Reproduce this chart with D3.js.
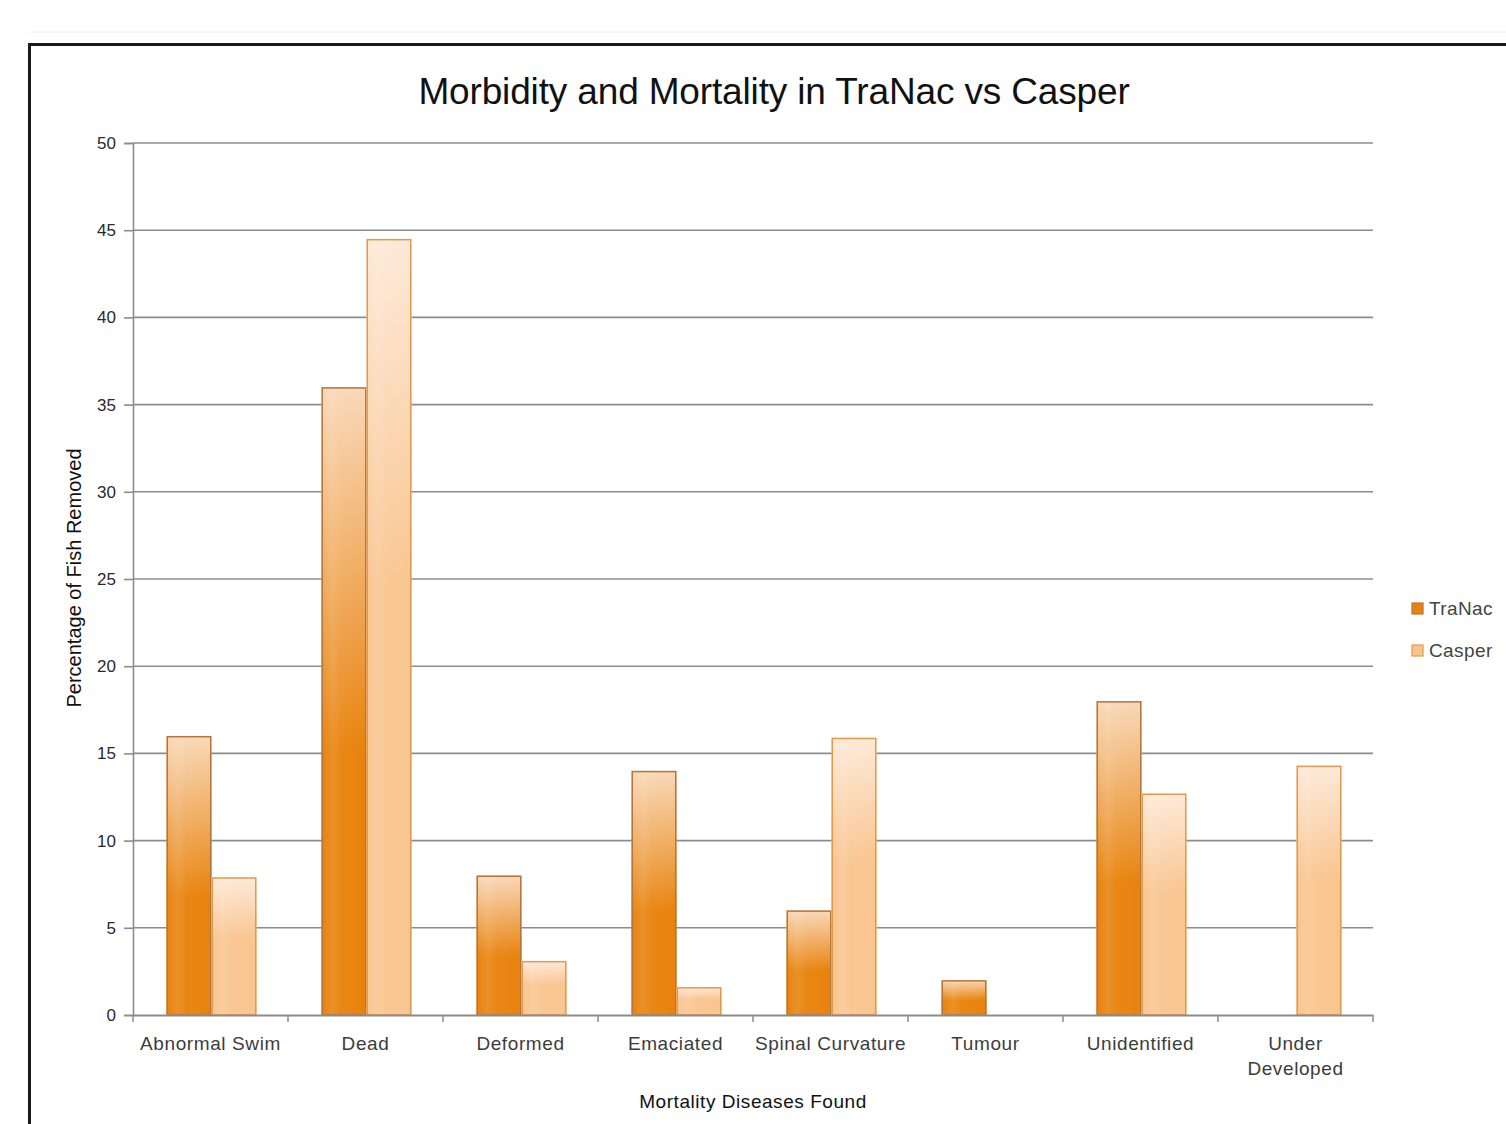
<!DOCTYPE html>
<html>
<head>
<meta charset="utf-8">
<script src="https://cdn.jsdelivr.net/npm/d3@7"></script>
<style>
  html, body { margin: 0; padding: 0; background: #fff; }
  svg { display: block; }
</style>
</head>
<body>
<svg id="chart" width="1506" height="1124"></svg>
<script>
// Chart data
const categories = ["Abnormal Swim", "Dead", "Deformed", "Emaciated", "Spinal Curvature", "Tumour", "Unidentified", "Under Developed"];
const seriesNames = ["TraNac", "Casper"];
const tranacValues = [16, 36, 8, 14, 6, 2, 18, 0];
const casperValues = [7.9, 44.5, 3.1, 1.6, 15.9, 0, 12.7, 14.3];
const yTicks = [0, 5, 10, 15, 20, 25, 30, 35, 40, 45, 50];

const titleText = "Morbidity and Mortality in TraNac vs Casper";
const yTitle = "Percentage of Fish Removed";
const xTitle = "Mortality Diseases Found";

const svg = d3.select("#chart");
const W = 1506, H = 1124;
const plot = { left: 133, right: 1373, top: 143, bottom: 1015 };

const font = "'Liberation Sans', Arial, sans-serif";

// Colour scheme per series: [top, full, stroke]
const palette = {
  TraNac: { top: "#f9d8b8", full: "#e8820c", stroke: "#b3763c", stop: "58%" },
  Casper: { top: "#fde9d8", full: "#f9c58f", stroke: "#e49a4c", stop: "45%" }
};

const defs = svg.append("defs");
seriesNames.forEach(name => {
  const p = palette[name];
  const g = defs.append("linearGradient")
    .attr("id", "grad-" + name)
    .attr("x1", 0).attr("y1", 0).attr("x2", 0).attr("y2", 1);
  g.append("stop").attr("offset", "0%").attr("stop-color", p.top);
  g.append("stop").attr("offset", p.stop).attr("stop-color", p.full);
  g.append("stop").attr("offset", "100%").attr("stop-color", p.full);
});
// soft vertical highlight across each bar
const hl = defs.append("linearGradient").attr("id", "barShine")
  .attr("x1", 0).attr("y1", 0).attr("x2", 1).attr("y2", 0);
hl.append("stop").attr("offset", "0%").attr("stop-color", "#fff").attr("stop-opacity", 0);
hl.append("stop").attr("offset", "25%").attr("stop-color", "#fff").attr("stop-opacity", 0.12);
hl.append("stop").attr("offset", "45%").attr("stop-color", "#fff").attr("stop-opacity", 0.04);
hl.append("stop").attr("offset", "100%").attr("stop-color", "#fff").attr("stop-opacity", 0);

// Frame around the chart
svg.append("line").attr("x1", 28).attr("x2", W).attr("y1", 32).attr("y2", 32)
  .attr("stroke", "#eee").attr("stroke-width", 1);
svg.append("path")
  .attr("d", `M29.5,${H} V44.5 H${W}`)
  .attr("fill", "none").attr("stroke", "#1a1a1a").attr("stroke-width", 3);

// Scales
const x0 = d3.scaleBand().domain(categories).range([plot.left, plot.right]).paddingInner(0).paddingOuter(0);
const innerPad = (x0.bandwidth() - 90) / 2;
const x1 = d3.scaleBand().domain(seriesNames).range([innerPad + 1, x0.bandwidth() - innerPad + 1]).padding(0);
const y = d3.scaleLinear().domain([0, 50]).range([plot.bottom, plot.top]);

// Gridlines
svg.append("g").selectAll("line").data(yTicks.filter(d => d > 0)).join("line")
  .attr("x1", plot.left).attr("x2", plot.right)
  .attr("y1", d => y(d)).attr("y2", d => y(d))
  .attr("stroke", "#8c8c8c").attr("stroke-width", 1.6);

// Y axis
const yAxis = svg.append("g").attr("transform", `translate(${plot.left},0)`)
  .call(d3.axisLeft(y).tickValues(yTicks).tickSize(9).tickPadding(8).tickFormat(d3.format("d")));
yAxis.select(".domain").attr("stroke", "#8c8c8c").attr("stroke-width", 1.6);
yAxis.selectAll(".tick line").attr("stroke", "#8c8c8c").attr("stroke-width", 1.6);
yAxis.selectAll(".tick text").attr("fill", "#2a2a2a").style("font-family", font).style("font-size", "17px");

// Bars
const rows = categories.map((c, i) => ({ cat: c, vals: [
  { key: "TraNac", v: tranacValues[i] },
  { key: "Casper", v: casperValues[i] }
]}));

const groups = svg.append("g").selectAll("g").data(rows).join("g")
  .attr("transform", d => `translate(${x0(d.cat)},0)`);
const bars = groups.selectAll("g.bar").data(d => d.vals.filter(v => v.v > 0)).join("g").attr("class", "bar");
bars.append("rect")
  .attr("x", d => x1(d.key)).attr("width", x1.bandwidth())
  .attr("y", d => y(d.v)).attr("height", d => y(0) - y(d.v))
  .attr("fill", d => `url(#grad-${d.key})`);
bars.append("rect")
  .attr("x", d => x1(d.key)).attr("width", x1.bandwidth())
  .attr("y", d => y(d.v)).attr("height", d => y(0) - y(d.v))
  .attr("fill", "url(#barShine)");
bars.append("rect")
  .attr("x", d => x1(d.key) + 0.75).attr("width", x1.bandwidth() - 1.5)
  .attr("y", d => y(d.v) + 0.75).attr("height", d => y(0) - y(d.v) - 0.75)
  .attr("fill", "none").attr("stroke", d => palette[d.key].stroke).attr("stroke-width", 1.5);

// X axis
const xAxis = svg.append("g").attr("transform", `translate(0,${plot.bottom})`)
  .call(d3.axisBottom(x0).tickSize(0).tickFormat(""));
xAxis.select(".domain").attr("stroke", "#8c8c8c").attr("stroke-width", 1.8);
// boundary tick marks between categories
const boundaries = categories.map(c => x0(c)).concat([plot.right]);
svg.append("g").selectAll("line").data(boundaries).join("line")
  .attr("x1", d => d).attr("x2", d => d)
  .attr("y1", plot.bottom).attr("y2", plot.bottom + 7)
  .attr("stroke", "#8c8c8c").attr("stroke-width", 1.5);

// Category labels (wrapped where long)
const wrapMap = { "Under Developed": ["Under", "Developed"] };
const catLabels = svg.append("g").selectAll("text").data(categories).join("text")
  .attr("x", d => x0(d) + x0.bandwidth() / 2)
  .attr("y", 1050)
  .attr("text-anchor", "middle")
  .attr("fill", "#3c3c3c")
  .style("font-family", font).style("font-size", "19px")
  .style("letter-spacing", "0.6px");
catLabels.each(function(d) {
  const lines = wrapMap[d] || [d];
  d3.select(this).selectAll("tspan").data(lines).join("tspan")
    .attr("x", x0(d) + x0.bandwidth() / 2)
    .attr("dy", (l, i) => i === 0 ? 0 : 25)
    .text(l => l);
});

// Titles
svg.append("text").attr("x", 774).attr("y", 104).attr("text-anchor", "middle")
  .attr("fill", "#111").style("font-family", font).style("font-size", "37px")
  .style("letter-spacing", "-0.15px").text(titleText);
svg.append("text").attr("x", 753).attr("y", 1108).attr("text-anchor", "middle")
  .attr("fill", "#111").style("font-family", font).style("font-size", "19px")
  .style("letter-spacing", "0.55px").text(xTitle);
svg.append("text").attr("transform", "translate(81,578) rotate(-90)").attr("text-anchor", "middle")
  .attr("fill", "#111").style("font-family", font).style("font-size", "20px")
  .text(yTitle);

// Legend
const legend = svg.append("g").selectAll("g").data(seriesNames).join("g")
  .attr("transform", (d, i) => `translate(1412,${603 + i * 42})`);
legend.append("rect").attr("width", 11).attr("height", 11)
  .attr("fill", d => palette[d].full).attr("stroke", d => palette[d].stroke).attr("stroke-width", 1.2);
legend.append("text").attr("x", 17).attr("y", 12)
  .attr("fill", "#444").style("font-family", font).style("font-size", "19px")
  .style("letter-spacing", "0.4px").text(d => d);
</script>
</body>
</html>
